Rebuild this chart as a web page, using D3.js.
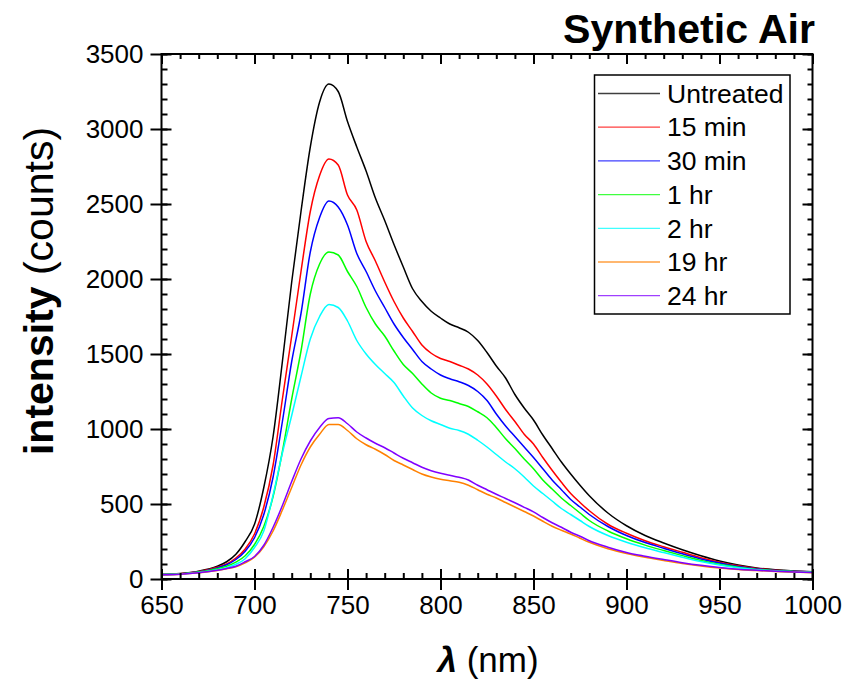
<!DOCTYPE html>
<html>
<head>
<meta charset="utf-8">
<script src="https://cdn.jsdelivr.net/npm/d3@7"></script>
<style>
  html, body { margin: 0; padding: 0; background: #fff; }
  svg { display: block; }
  text { font-family: "Liberation Sans", Arial, sans-serif; }
</style>
</head>
<body>
<svg id="chart" width="851" height="685"></svg>
<script>
// ---------------- DATA ----------------
const wavelengths = [650,660,670,680,685,690,695,700,705,710,715,720,725,730,735,740,745,750,755,760,765,770,775,780,785,790,795,800,805,810,815,820,825,830,835,840,845,850,855,860,865,870,875,880,890,900,910,920,930,940,950,960,970,980,990,1000];

const untreated = [30,36,52,85,115,165,250,365,610,950,1450,1980,2450,2880,3180,3300,3250,3050,2880,2720,2540,2390,2230,2080,1935,1850,1785,1740,1700,1675,1645,1590,1510,1420,1340,1230,1140,1060,960,870,780,700,625,555,440,355,290,240,195,155,120,93,74,62,54,49];
const min15 = [30,35,50,78,100,140,200,300,480,760,1200,1620,2050,2450,2690,2800,2760,2560,2460,2250,2120,1980,1850,1740,1650,1560,1505,1470,1450,1425,1400,1360,1300,1220,1130,1050,965,900,810,725,645,570,510,455,365,305,255,215,178,142,112,88,70,59,52,47];
const min30 = [30,34,48,74,95,130,185,275,430,680,1050,1450,1770,2180,2410,2520,2480,2360,2170,2050,1920,1810,1700,1610,1530,1450,1400,1360,1335,1315,1290,1250,1190,1100,1020,950,880,810,735,660,595,530,480,430,350,290,243,205,168,134,106,83,67,57,51,46];
const hr1 = [30,34,46,68,85,112,155,230,350,550,850,1200,1520,1900,2100,2180,2160,2050,1950,1810,1700,1620,1520,1430,1370,1300,1240,1205,1190,1170,1150,1115,1075,1010,935,870,800,735,660,600,540,490,440,390,320,268,226,190,156,124,98,79,64,55,50,46];
const hr2 = [29,33,43,62,76,98,135,210,320,560,840,1090,1350,1600,1750,1830,1810,1720,1590,1500,1430,1370,1310,1220,1140,1090,1055,1030,1005,990,965,925,880,830,780,735,680,620,570,520,470,430,390,350,290,245,208,176,145,116,93,75,62,54,49,45];
const hr19 = [28,32,41,56,68,82,108,145,215,320,460,610,760,880,965,1030,1030,990,935,895,865,830,790,760,730,700,680,665,655,645,625,595,565,540,510,480,450,420,385,352,325,300,272,245,202,170,145,124,104,87,73,63,56,50,46,42];
const hr24 = [28,32,42,58,70,85,115,150,225,345,490,650,800,920,1010,1070,1075,1035,980,940,905,875,840,805,775,745,722,705,692,678,660,625,595,565,537,508,478,448,410,375,345,312,285,255,212,177,152,130,109,91,76,65,58,52,47,43];

const seriesNames = ["Untreated","15 min","30 min","1 hr","2 hr","19 hr","24 hr"];
const seriesColors = ["#000000","#ff0000","#0000ff","#00ff00","#00ffff","#ff8000","#8000ff"];
const seriesValues = [untreated, min15, min30, hr1, hr2, hr19, hr24];

const xMajorTicks = [650,700,750,800,850,900,950,1000];
const yMajorTicks = [0,500,1000,1500,2000,2500,3000,3500];
const titleText = "Synthetic Air";

// ---------------- LAYOUT ----------------
const L = 161.5, R = 812.5, T = 54, B = 579;
const svg = d3.select("#chart");

const x = d3.scaleLinear().domain([650, 1000]).range([L, R]);
const y = d3.scaleLinear().domain([0, 3500]).range([B, T]);

const xMinor = d3.range(650, 1000.1, 10);
const yMinor = d3.range(0, 3500.1, 100);

// lines
const line = d3.line()
  .x(d => x(d[0]))
  .y(d => y(d[1]))
  .curve(d3.curveMonotoneX);

const plot = svg.append("g");
plot.append("clipPath").attr("id", "clip")
  .append("rect").attr("x", L).attr("y", T).attr("width", R - L).attr("height", B - T);

seriesValues.forEach((vals, i) => {
  const data = wavelengths.map((w, k) => [w, vals[k]]);
  plot.append("path")
    .attr("clip-path", "url(#clip)")
    .attr("d", line(data))
    .attr("fill", "none")
    .attr("stroke", seriesColors[i])
    .attr("stroke-width", 1.5)
    .attr("stroke-linejoin", "round");
});

// axes helper
function styleAxis(g) {
  g.select(".domain").remove();
  g.selectAll(".tick line").attr("stroke", "#000").attr("stroke-width", 2);
  g.selectAll(".tick text")
    .attr("font-size", 26)
    .attr("fill", "#000")
    .attr("font-family", '"Liberation Sans", Arial, sans-serif');
}

// bottom: outward major with labels
svg.append("g").attr("transform", `translate(0,${B})`)
  .call(d3.axisBottom(x).tickValues(xMajorTicks).tickSize(11).tickPadding(6).tickFormat(d3.format("d")))
  .call(styleAxis);
svg.append("g").attr("transform", `translate(0,${B})`)
  .call(d3.axisTop(x).tickValues(xMajorTicks).tickSize(10).tickFormat(""))
  .call(styleAxis);
svg.append("g").attr("transform", `translate(0,${B})`)
  .call(d3.axisTop(x).tickValues(xMinor).tickSize(6).tickFormat(""))
  .call(styleAxis);
// top: inward major & minor
svg.append("g").attr("transform", `translate(0,${T})`)
  .call(d3.axisBottom(x).tickValues(xMajorTicks).tickSize(10).tickFormat(""))
  .call(styleAxis);
svg.append("g").attr("transform", `translate(0,${T})`)
  .call(d3.axisBottom(x).tickValues(xMinor).tickSize(5).tickFormat(""))
  .call(styleAxis);

// left: outward major with labels
svg.append("g").attr("transform", `translate(${L},0)`)
  .call(d3.axisLeft(y).tickValues(yMajorTicks).tickSize(11).tickPadding(7).tickFormat(d3.format("d")))
  .call(styleAxis);
svg.append("g").attr("transform", `translate(${L},0)`)
  .call(d3.axisRight(y).tickValues(yMajorTicks).tickSize(10).tickFormat(""))
  .call(styleAxis);
svg.append("g").attr("transform", `translate(${L},0)`)
  .call(d3.axisRight(y).tickValues(yMinor).tickSize(6).tickFormat(""))
  .call(styleAxis);
// right: inward
svg.append("g").attr("transform", `translate(${R},0)`)
  .call(d3.axisLeft(y).tickValues(yMajorTicks).tickSize(10).tickFormat(""))
  .call(styleAxis);
svg.append("g").attr("transform", `translate(${R},0)`)
  .call(d3.axisLeft(y).tickValues(yMinor).tickSize(5).tickFormat(""))
  .call(styleAxis);

// frame
svg.append("rect")
  .attr("x", L).attr("y", T).attr("width", R - L).attr("height", B - T)
  .attr("fill", "none").attr("stroke", "#000").attr("stroke-width", 2);

// legend
const lg = svg.append("g");
lg.append("rect").attr("x", 594.5).attr("y", 75).attr("width", 195.5).attr("height", 239)
  .attr("fill", "#fff").attr("stroke", "#000").attr("stroke-width", 1.5);
seriesNames.forEach((name, i) => {
  const cy = 93.5 + i * 33.7;
  lg.append("line").attr("x1", 598).attr("x2", 660).attr("y1", cy).attr("y2", cy)
    .attr("stroke", seriesColors[i]).attr("stroke-width", 1.3).attr("opacity", 0.75);
  lg.append("text").attr("x", 667).attr("y", cy).attr("dy", "0.35em")
    .attr("font-size", 26.5).attr("fill", "#000").text(name);
});

// title
svg.append("text")
  .attr("x", 815).attr("y", 43).attr("text-anchor", "end")
  .attr("font-family", "Lato, 'Open Sans', sans-serif")
  .attr("font-weight", "bold").attr("font-size", 41)
  .attr("textLength", 252).attr("lengthAdjust", "spacingAndGlyphs")
  .text(titleText);

// x axis title
const xt = svg.append("text")
  .attr("x", (L + R) / 2 + 1).attr("y", 672).attr("text-anchor", "middle")
  .attr("font-size", 35).attr("fill", "#000");
xt.append("tspan").attr("font-weight", "bold").attr("font-style", "italic").text("λ");
xt.append("tspan").text(" (nm)");

// y axis title
const yt = svg.append("text")
  .attr("transform", `translate(53,${291}) rotate(-90)`)
  .attr("text-anchor", "middle")
  .attr("font-size", 41).attr("fill", "#000");
yt.append("tspan").attr("font-weight", "bold").text("intensity");
yt.append("tspan").text(" (counts)");
</script>
</body>
</html>
